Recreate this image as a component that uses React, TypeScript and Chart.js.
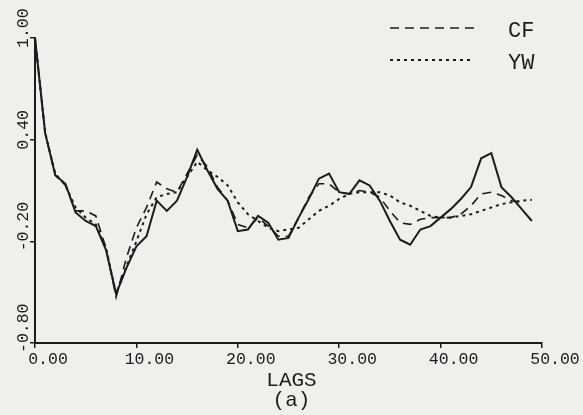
import { useEffect, useRef } from 'react';
import { Chart, registerables } from 'chart.js';

Chart.register(...registerables);

const lags = [0, 1, 2, 3, 4, 5, 6, 7, 8, 9, 10, 11, 12, 13, 14, 15, 16, 17, 18, 19, 20, 21, 22, 23, 24, 25, 26, 27, 28, 29, 30, 31, 32, 33, 34, 35, 36, 37, 38, 39, 40, 41, 42, 43, 44, 45, 46, 47, 48, 49];

const actualValues = [1.0, 0.44, 0.19, 0.14, -0.03, -0.08, -0.11, -0.25, -0.51, -0.36, -0.23, -0.17, 0.04, -0.02, 0.04, 0.18, 0.34, 0.22, 0.11, 0.04, -0.14, -0.13, -0.05, -0.09, -0.19, -0.18, -0.06, 0.05, 0.17, 0.2, 0.09, 0.08, 0.16, 0.13, 0.04, -0.08, -0.19, -0.22, -0.13, -0.11, -0.06, -0.01, 0.05, 0.12, 0.29, 0.32, 0.12, 0.06, -0.01, -0.08];

const cfValues = [1.0, 0.44, 0.19, 0.13, -0.02, -0.02, -0.05, -0.24, -0.53, -0.3, -0.12, 0.0, 0.15, 0.11, 0.09, 0.2, 0.31, 0.24, 0.12, 0.04, -0.1, -0.12, -0.06, -0.11, -0.17, -0.17, -0.06, 0.06, 0.14, 0.14, 0.09, 0.08, 0.1, 0.09, 0.06, -0.02, -0.09, -0.1, -0.07, -0.06, -0.06, -0.06, -0.04, 0.01, 0.08, 0.09, 0.07, 0.04, 0.03];

const ywValues = [1.0, 0.44, 0.2, 0.13, 0.0, -0.06, -0.1, -0.24, -0.51, -0.35, -0.2, -0.04, 0.06, 0.08, 0.09, 0.18, 0.27, 0.22, 0.18, 0.13, 0.03, -0.04, -0.08, -0.12, -0.14, -0.13, -0.12, -0.07, -0.02, 0.01, 0.05, 0.08, 0.09, 0.09, 0.09, 0.07, 0.03, 0.01, -0.02, -0.05, -0.06, -0.06, -0.05, -0.04, -0.02, 0.0, 0.02, 0.03, 0.04, 0.045];

const xTickValues = [0, 10, 20, 30, 40, 50];
const xTickLabels = ['0.00', '10.00', '20.00', '30.00', '40.00', '50.00'];
const yTickValues = [-0.8, -0.2, 0.4, 1.0];
const yTickLabels = ['-0.80', '-0.20', '0.40', '1.00'];

const seriesLabels = ['ACTUAL', 'CF', 'YW'];
const xTitleLines = ['LAGS', '(a)'];

const INK = '#1c1c1c';
const PAPER = '#efefec';
const MONO = '"Liberation Mono", "DejaVu Sans Mono", monospace';

const toPoints = (vals: number[]) => vals.map((v, i) => ({ x: lags[i], y: v }));

const decorPlugin = {
  id: 'decor',
  beforeDraw(chart: any) {
    const { ctx, width, height } = chart;
    ctx.save();
    ctx.fillStyle = PAPER;
    ctx.fillRect(0, 0, width, height);
    ctx.restore();
  },
  afterDraw(chart: any) {
    const { ctx } = chart;
    const xs = chart.scales.x;
    const ys = chart.scales.y;
    ctx.save();
    ctx.fillStyle = INK;
    ctx.font = `16.5px ${MONO}`;
    ctx.textBaseline = 'alphabetic';
    ctx.textAlign = 'center';
    xTickValues.forEach((v, i) => {
      const px = xs.getPixelForValue(v);
      ctx.fillText(xTickLabels[i], px + 13, 364);
    });
    yTickValues.forEach((v, i) => {
      const py = ys.getPixelForValue(v);
      ctx.save();
      ctx.translate(28, py + 10);
      ctx.rotate(-Math.PI / 2);
      ctx.textAlign = 'left';
      ctx.fillText(yTickLabels[i], 0, 0);
      ctx.restore();
    });
    // axis title
    const cx = (chart.chartArea.left + chart.chartArea.right) / 2 + 3;
    ctx.font = `21px ${MONO}`;
    ctx.textAlign = 'center';
    ctx.fillText(xTitleLines[0], cx, 386);
    ctx.fillText(xTitleLines[1], cx, 406);
    // legend
    const dsets = chart.data.datasets;
    const legendRows = [1, 2];
    const rowY = [28, 60];
    legendRows.forEach((di, r) => {
      const ds = dsets[di];
      ctx.save();
      ctx.strokeStyle = INK;
      ctx.lineWidth = ds.borderWidth;
      ctx.setLineDash(ds.borderDash || []);
      ctx.beginPath();
      ctx.moveTo(390, rowY[r]);
      ctx.lineTo(474, rowY[r]);
      ctx.stroke();
      ctx.restore();
      ctx.font = `22px ${MONO}`;
      ctx.textAlign = 'left';
      ctx.fillText(ds.label, 508, rowY[r] + 9);
    });
    ctx.restore();
  },
};

export default function App() {
  const ref = useRef<HTMLCanvasElement | null>(null);
  useEffect(() => {
    if (!ref.current) return;
    const chart = new Chart(ref.current, {
      type: 'line',
      data: {
        datasets: [
          {
            label: seriesLabels[0],
            data: toPoints(actualValues),
            borderColor: INK,
            borderWidth: 2,
            pointRadius: 0,
            tension: 0,
          },
          {
            label: seriesLabels[1],
            data: toPoints(cfValues),
            borderColor: INK,
            borderWidth: 1.6,
            borderDash: [9, 6],
            pointRadius: 0,
            tension: 0,
          },
          {
            label: seriesLabels[2],
            data: toPoints(ywValues),
            borderColor: INK,
            borderWidth: 2,
            borderDash: [3, 4],
            pointRadius: 0,
            tension: 0,
          },
        ],
      },
      options: {
        responsive: false,
        animation: false,
        layout: { padding: { left: 30, right: 41, top: 38, bottom: 67 } },
        plugins: { legend: { display: false }, tooltip: { enabled: false } },
        scales: {
          x: {
            type: 'linear',
            min: 0,
            max: 50,
            ticks: { display: false, stepSize: 10 },
            grid: { display: true, drawOnChartArea: false, drawTicks: true, tickLength: 5, color: INK, lineWidth: 1.5 },
            border: { display: true, color: INK, width: 2 },
          },
          y: {
            min: -0.8,
            max: 1.0,
            ticks: { display: false, stepSize: 0.6 },
            grid: { display: true, drawOnChartArea: false, drawTicks: true, tickLength: 5, color: INK, lineWidth: 1.5 },
            border: { display: true, color: INK, width: 2 },
          },
        },
      },
      plugins: [decorPlugin],
    });
    return () => chart.destroy();
  }, []);
  return (
    <div style={{ position: 'absolute', left: 0, top: 0, width: 583, height: 415 }}>
      <canvas ref={ref} width={583} height={415} style={{ display: 'block' }} />
    </div>
  );
}
